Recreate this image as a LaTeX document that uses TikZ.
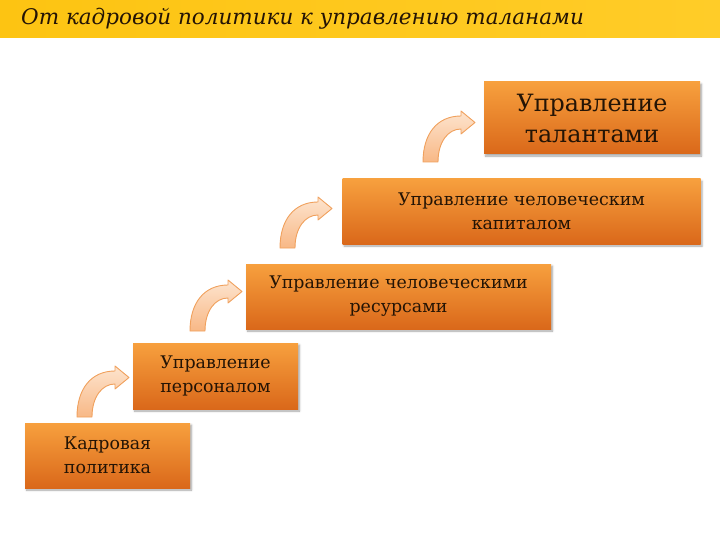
\documentclass[tikz,border=0pt]{standalone}
\usepackage{fontspec}
\setmainfont{DejaVu Serif}
\usetikzlibrary{shadows.blur}
\definecolor{boxtop}{RGB}{247,160,62}
\definecolor{boxbot}{RGB}{218,104,26}
\definecolor{txt}{RGB}{36,20,5}
\definecolor{arrtop}{RGB}{253,228,206}
\definecolor{arrbot}{RGB}{248,184,134}
\definecolor{arrline}{RGB}{240,160,92}
\definecolor{bartl}{RGB}{253,196,18}
\definecolor{bartr}{RGB}{255,204,40}
\tikzset{
  stepbox/.style={draw=none, top color=boxtop, bottom color=boxbot, text=txt,
    align=center, inner sep=2pt, font=\fontsize{17.4}{24}\selectfont,
    blur shadow={shadow xshift=1.5pt, shadow yshift=-2pt, shadow blur steps=5, shadow opacity=35}},
  curvearrow/.pic={
    \draw[draw=arrline, line width=0.9pt, top color=arrtop, bottom color=arrbot, line join=round]
      (0,0) .. controls (0,-28) and (14,-46) .. (38,-46) -- (38,-51) -- (52,-39.5)
      -- (38,-28) -- (38,-33) .. controls (25,-33) and (15,-20) .. (15,0) -- cycle;
  }
}
\begin{document}
\begin{tikzpicture}[x=1pt,y=-1pt]
\useasboundingbox (0,0) rectangle (720,540);
\fill[left color=bartl, right color=bartr] (0,0) rectangle (720,38);
\node[anchor=base west, text=txt, inner sep=0pt, font=\itshape\fontsize{21.5}{24}\selectfont] (title) at (21,25) {От кадровой политики к управлению таланами};

\node[stepbox, minimum width=165pt, minimum height=65pt] (b1) at (107.5,455.5) {Кадровая\\политика};
\node[stepbox, minimum width=165pt, minimum height=66pt] (b2) at (215.5,376) {Управление\\персоналом};
\node[stepbox, minimum width=305pt, minimum height=65pt] (b3) at (398.5,296.5) {Управление человеческими\\ресурсами};
\node[stepbox, minimum width=358pt, minimum height=65pt] (b4) at (521.5,211.5) {Управление человеческим\\капиталом};
\node[stepbox, minimum width=216pt, minimum height=72pt, font=\fontsize{23.8}{31}\selectfont] (b5) at (592,118) {Управление\\талантами};

\pic at (77,417) {curvearrow};
\pic at (190,331) {curvearrow};
\pic at (280,248) {curvearrow};
\pic at (423,162) {curvearrow};
\end{tikzpicture}
\end{document}
